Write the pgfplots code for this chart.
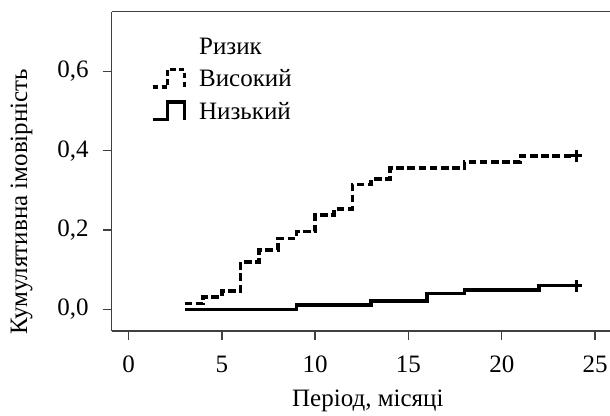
\documentclass[border=0pt]{standalone}
\usepackage{fontspec}
\setmainfont{Liberation Serif}
\usepackage{pgfplots}
\pgfplotsset{compat=1.18}
\begin{document}
\begin{tikzpicture}
\begin{axis}[
  name=ax,
  scale only axis,
  width=249pt, height=159.5pt,
  xmin=-0.9, xmax=25.8,
  ymin=-0.054, ymax=0.75,
  axis x line*=bottom, axis y line*=left,
  axis line style={black!75, line width=0.7pt, -},
  tick style={black!75, line width=0.7pt},
  tick align=outside,
  major tick length=4.5pt,
  xtick={0,5,10,15,20,25},
  ytick={0,0.2,0.4,0.6},
  /pgf/number format/assume math mode=true,
  yticklabel style={/pgf/number format/use comma, /pgf/number format/fixed, /pgf/number format/fixed zerofill, /pgf/number format/precision=1, xshift=-3.5pt},
  xticklabel style={yshift=-4.5pt},
  xlabel={Період, місяці},
  ylabel={Кумулятивна імовірність},
  xlabel style={at={(axis description cs:0.514,-0.219)}, anchor=center},
  ylabel style={at={(axis description cs:-0.181,0.405)}, anchor=center},
  font=\fontsize{12.5pt}{15pt}\selectfont,
  legend cell align=left,
  legend style={draw=none, fill=none, at={(axis description cs:0.066,0.945)}, anchor=north west,
    font=\fontsize{12.5pt}{15pt}\selectfont, row sep=2.2pt},
  extra description/.code={\draw[black!75, line width=0.7pt] (rel axis cs:0,1) -- (rel axis cs:1,1);},
]
\addlegendimage{empty legend}
\addlegendentry{Ризик}
\addlegendimage{legend image code/.code={\draw[black, line width=1.7pt, dash pattern=on 2.6pt off 1.8pt] (0pt,-3.8pt) -- (7.5pt,-3.8pt) -- (7.5pt,5pt) -- (16pt,5pt) -- (16pt,-3.8pt); \path (21pt,0pt);}}
\addlegendentry{Високий}
\addlegendimage{legend image code/.code={\draw[black, line width=1.7pt] (0pt,-3.8pt) -- (7.5pt,-3.8pt) -- (7.5pt,5pt) -- (16pt,5pt) -- (16pt,-3.8pt); \path (21pt,0pt);}}
\addlegendentry{Низький}
\addplot[black, line width=1.8pt, dash pattern=on 3.8pt off 1.8pt, const plot, forget plot] coordinates {
(3,0.015)(4,0.032)(5,0.046)(6,0.119)(7,0.150)(8,0.179)(9,0.196)(10,0.238)(11,0.253)(12,0.315)(13,0.328)(14,0.357)(18,0.372)(21,0.387)(24,0.387)};
\addplot[black, line width=1.8pt, const plot, forget plot] coordinates {
(3,0.000)(9,0.011)(13,0.021)(16,0.040)(18,0.049)(22,0.060)(24,0.060)};
\addplot[only marks, mark=+, mark size=3pt, mark options={line width=1.4pt, black}, forget plot] coordinates {(24,0.387)(24,0.060)};
\end{axis}
\pgfresetboundingbox
\path ([xshift=-55.85pt,yshift=-42.15pt]ax.south west) rectangle ([yshift=5.85pt]ax.north east);
\end{tikzpicture}
\end{document}
